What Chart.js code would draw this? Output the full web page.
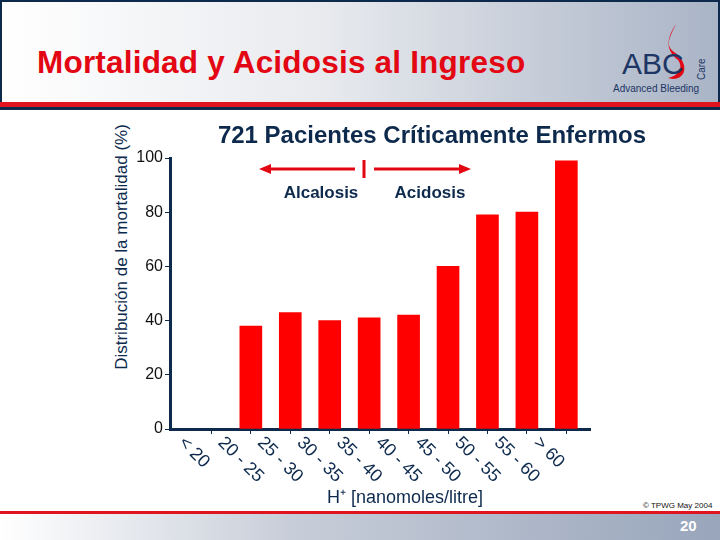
<!DOCTYPE html>
<html>
<head>
<meta charset="utf-8">
<script src="https://cdn.jsdelivr.net/npm/chart.js@4"></script>
<style>
  body { margin: 0; width: 720px; height: 540px; position: relative; overflow: hidden; background: #fff; font-family: Arial, "Liberation Sans", sans-serif; }
  #chart { position: absolute; left: 0; top: 0; }
  .hdr { position: absolute; left: 0; top: 0; width: 716px; height: 100px; border: 2px solid #0d2a4d; border-bottom: none;
         background: linear-gradient(to right, #ffffff 0%, #e8eaee 45%, #a9b4c6 100%); }
  .redline { position: absolute; left: 0; top: 102px; width: 720px; height: 5px; background: #e0141e; }
  .navline { position: absolute; left: 0; top: 107px; width: 720px; height: 3px; background: #0d2a4d; }
  .title { position: absolute; left: 37px; top: 44px; font-size: 31.5px; font-weight: bold; color: #e30613; letter-spacing: 0.2px; }
  .abc { position: absolute; left: 622px; top: 47px; font-size: 30px; color: #1c3564; }
  .care { position: absolute; left: 696px; top: 80px; font-size: 10px; color: #1c3564; transform: rotate(-90deg); transform-origin: left top; }
  .adv { position: absolute; left: 613px; top: 83px; font-size: 10px; color: #1c3564; }
  .ytitle { position: absolute; left: 122px; top: 247px; font-size: 17px; color: #0d2a4d; white-space: nowrap;
            transform: translate(-50%, -50%) rotate(-90deg); }
  .foot { position: absolute; left: 0; top: 514px; width: 720px; height: 26px; background: linear-gradient(to right, #ffffff 0%, #c8ced9 40%, #98a5bb 100%); }
  .footred { position: absolute; left: 0; top: 511px; width: 720px; height: 4px; background: #e0141e; }
  .pg { position: absolute; left: 680px; top: 517px; font-size: 15px; font-weight: bold; color: #fff; }
  .copy { position: absolute; left: 643px; top: 501px; font-size: 8px; color: #111; }
</style>
</head>
<body>
<div class="hdr"></div>
<div class="redline"></div>
<div class="navline"></div>
<div class="title">Mortalidad y Acidosis al Ingreso</div>
<svg style="position:absolute;left:664px;top:22px" width="36" height="60">
  <path d="M12 2 C4 18 2 24 10 30 C22 38 24 52 14 56 C8 58 6 56 4 56 C14 54 20 46 14 38 C4 30 0 20 12 2 Z" fill="#e30613"/>
</svg>
<div class="abc">ABC</div>
<div class="care">Care</div>
<div class="adv">Advanced Bleeding</div>
<div class="ytitle">Distribución de la mortalidad (%)</div>
<div class="copy">© TPWG May 2004</div>
<div class="footred"></div>
<div class="foot"></div>
<div class="pg">20</div>
<canvas id="chart" width="720" height="540"></canvas>
<script>
const categories = ["< 20", "20 - 25", "25 - 30", "30 - 35", "35 - 40", "40 - 45", "45 - 50", "50 - 55", "55 - 60", "> 60"];
const mortality = [null, 38, 43, 40, 41, 42, 60, 79, 80, 99];
const yTicks = [0, 20, 40, 60, 80, 100];

const navy = "#0d2a4d";

const decor = {
  id: "decor",
  afterDraw(chart) {
    const ctx = chart.ctx;
    const xs = chart.scales.x;
    const base = chart.chartArea.bottom;
    ctx.save();
    ctx.fillStyle = navy;
    ctx.font = "18px Arial";
    ctx.textBaseline = "middle";
    categories.forEach((c, i) => {
      const px = xs.getPixelForValue(i);
      ctx.save();
      ctx.translate(px - 30, base + 11);
      ctx.rotate(Math.PI / 4);
      ctx.fillText(c, 0, 0);
      ctx.restore();
    });
    ctx.textAlign = "center";
    ctx.font = "18px Arial";
    ctx.fillText("H⁺ [nanomoles/litre]", 405, 498);
    ctx.font = "bold 24px Arial";
    ctx.fillText("721 Pacientes Críticamente Enfermos", 432, 136);
    ctx.font = "bold 17px Arial";
    ctx.fillText("Alcalosis", 321, 193);
    ctx.fillText("Acidosis", 430, 193);
    ctx.strokeStyle = "#e30613";
    ctx.fillStyle = "#e30613";
    ctx.lineWidth = 3;
    ctx.beginPath();
    ctx.moveTo(268, 169); ctx.lineTo(355, 169);
    ctx.moveTo(374, 169); ctx.lineTo(462, 169);
    ctx.moveTo(364, 160); ctx.lineTo(364, 178);
    ctx.stroke();
    ctx.beginPath();
    ctx.moveTo(259, 169); ctx.lineTo(271, 164); ctx.lineTo(271, 174); ctx.closePath();
    ctx.moveTo(471, 169); ctx.lineTo(459, 164); ctx.lineTo(459, 174); ctx.closePath();
    ctx.fill();
    ctx.restore();
  }
};

new Chart(document.getElementById("chart"), {
  type: "bar",
  data: {
    datasets: [{
      data: mortality.map((v, i) => ({ x: i, y: v })),
      backgroundColor: "#ff0000",
      barThickness: 22
    }]
  },
  options: {
    responsive: false,
    animation: false,
    layout: { padding: { top: 158, right: 130, left: 0, bottom: 0 } },
    plugins: { legend: { display: false }, tooltip: { enabled: false } },
    scales: {
      x: {
        type: "linear",
        offset: false,
        min: -1.05,
        max: 9.6,
        afterFit: (s) => { s.height = 111; },
        afterBuildTicks: (s) => { s.ticks = categories.map((c, i) => ({ value: i })); },
        ticks: { display: false },
        grid: { offset: false, drawOnChartArea: false, drawTicks: true, tickLength: 5, color: navy },
        border: { color: navy, width: 3 }
      },
      y: {
        min: 0,
        max: 100,
        afterFit: (s) => { s.width = 170; },
        afterBuildTicks: (s) => { s.ticks = yTicks.map(v => ({ value: v })); },
        ticks: { color: "#111", font: { family: "Arial", size: 16 }, padding: 2 },
        grid: { drawOnChartArea: false, drawTicks: true, tickLength: 5, color: navy },
        border: { color: navy, width: 3 }
      }
    }
  },
  plugins: [decor]
});
</script>
</body>
</html>
